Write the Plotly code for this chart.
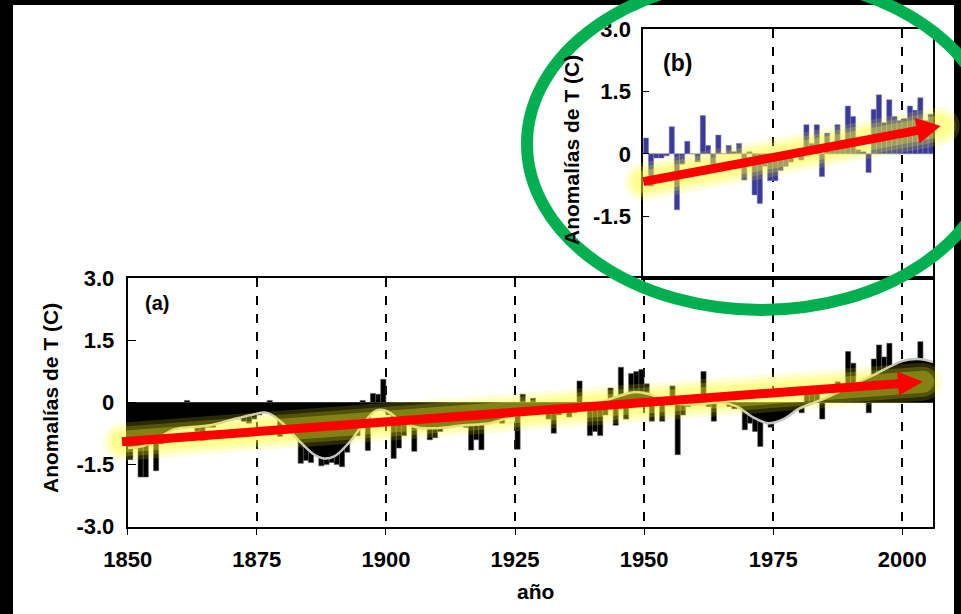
import math
import plotly.graph_objects as go

# ---------------- data ----------------
years_a = list(range(1850, 2006))
anom_a = [
    -1.38, -1.10, -1.80, -1.80, -1.00, -1.65, -1.00, -0.60, -0.40, -0.50,   # 1850s
    -0.30, 0.05, -0.60, -0.70, -0.92, -0.60, -0.60, -0.50, -0.40, -0.20,    # 1860s
    -0.20, -0.40, -0.45, -0.50, -0.40, -0.30, 0.00, 0.05, -0.30, -0.82,     # 1870s
    -0.50, -0.60, -0.50, -1.47, -1.40, -1.45, -1.20, -1.53, -1.50, -1.45,   # 1880s
    -1.50, -1.55, -1.20, -0.40, -0.80, 0.05, -1.16, 0.22, 0.20, 0.56,       # 1890s
    -0.30, -1.35, -1.10, -0.80, -0.25, -1.18, -0.30, -0.50, -0.90, -0.85,   # 1900s
    -0.70, -0.50, -0.60, -0.30, -0.40, -0.60, -1.15, -0.90, -1.14, -0.20,   # 1910s
    -0.10, -0.40, -0.50, -0.25, -0.30, -1.13, 0.20, 0.00, 0.10, 0.00,       # 1920s
    -0.10, -0.40, -0.74, -0.30, -0.20, -0.35, -0.25, 0.52, -0.10, -0.80,    # 1930s
    -0.70, -0.80, -0.30, 0.35, -0.55, 0.85, -0.40, 0.70, 0.75, 0.80,        # 1940s
    0.45, -0.45, 0.00, -0.45, 0.10, 0.40, -1.26, -0.30, -0.10, 0.00,        # 1950s
    0.00, 0.75, -0.10, -0.45, 0.05, 0.00, -0.10, -0.15, 0.00, -0.66,        # 1960s
    -0.50, -0.70, -1.06, -0.30, -0.60, -0.40, -0.30, -0.10, 0.00, -0.10,    # 1970s
    -0.25, 0.30, 0.40, 0.35, -0.40, 0.00, 0.10, 0.50, 0.10, 1.23,           # 1980s
    0.95, 0.00, 0.40, -0.25, 1.05, 1.39, 1.10, 1.43, 0.80, 0.90,            # 1990s
    1.00, 1.00, 1.00, 1.47, 1.00, 0.70,                                     # 2000s
]
smooth_years = [1850, 1853, 1856, 1859, 1862, 1866, 1870, 1874, 1877, 1880,
                1883, 1886, 1888, 1890, 1893, 1896, 1898, 1900, 1903, 1906,
                1910, 1915, 1920, 1925, 1930, 1935, 1940, 1945, 1948, 1951,
                1955, 1960, 1965, 1968, 1971, 1974, 1977, 1980, 1985, 1990,
                1995, 2000, 2003, 2006]
smooth_a = [-1.10, -1.05, -0.85, -0.65, -0.60, -0.55, -0.42, -0.30, -0.25, -0.50,
            -0.90, -1.25, -1.35, -1.30, -0.95, -0.45, -0.20, -0.20, -0.45, -0.60,
            -0.62, -0.55, -0.50, -0.32, -0.20, -0.15, -0.05, 0.15, 0.25, 0.20,
            0.00, -0.05, 0.00, -0.10, -0.35, -0.50, -0.40, -0.15, 0.10, 0.40,
            0.70, 1.00, 1.05, 0.98]

years_b = list(range(1950, 2006))
anom_b = [
    0.38, -0.78, -0.10, -0.10, -0.05, 0.65, -1.35, -0.25, 0.30, 0.00,      # 1950s
    -0.20, 0.92, 0.20, -0.25, 0.45, 0.00, 0.20, 0.05, 0.25, -0.63,         # 1960s
    0.05, -0.99, -1.20, -0.30, -0.65, -0.65, -0.40, -0.30, -0.20, 0.00,    # 1970s
    -0.15, 0.70, 0.25, 0.70, -0.55, 0.50, 0.10, 0.70, 0.15, 1.15,          # 1980s
    0.90, 0.10, 0.05, -0.45, 1.07, 1.42, 0.75, 1.30, 0.90, 0.80,           # 1990s
    0.85, 1.15, 1.05, 1.35, 0.80, 0.95,                                    # 2000s
]

x_ticks_a = [1850, 1875, 1900, 1925, 1950, 1975, 2000]
x_ticks_b = [1950, 1975, 2000]
y_ticks_a = [-3, -1.5, 0, 1.5, 3]
y_text_a = ["-3.0", "-1.5", "0", "1.5", "3.0"]
y_ticks_b = [-1.5, 0, 1.5, 3]
y_text_b = ["-1.5", "0", "1.5", "3.0"]

# ---------------- figure ----------------
W, H = 961, 614
FONT = "Liberation Sans, Arial, sans-serif"


def P(x, y):
    return x / W, 1 - y / H


fig = go.Figure()

fig.add_trace(go.Scatter(x=smooth_years, y=smooth_a, mode="lines", fill="tozeroy",
                         fillcolor="black", line=dict(width=0, shape="spline"),
                         xaxis="x", yaxis="y", hoverinfo="skip"))
fig.add_trace(go.Bar(x=years_a, y=anom_a, width=1, offset=0,
                     marker=dict(color="black", line=dict(width=0.6, color="#555555")),
                     xaxis="x", yaxis="y"))
fig.add_trace(go.Scatter(x=smooth_years, y=smooth_a, mode="lines",
                         line=dict(color="#C4C4C4", width=2.5, shape="spline"),
                         xaxis="x", yaxis="y"))
fig.add_trace(go.Bar(x=years_b, y=anom_b, width=1, offset=0,
                     marker=dict(color="#3A3A9E", line=dict(width=0.6, color="#8080A0")),
                     xaxis="x2", yaxis="y2"))

ax_common = dict(showline=True, linecolor="black", linewidth=2, mirror=True,
                 zeroline=False, tickcolor="black", automargin=False,
                 tickfont=dict(family=FONT, size=22, color="black", weight="bold"))

fig.update_layout(
    width=W, height=H, autosize=False, margin=dict(l=0, r=0, t=0, b=0, pad=0, autoexpand=False),
    paper_bgcolor="white", plot_bgcolor="rgba(0,0,0,0)",
    showlegend=False, barmode="overlay",
    xaxis=dict(domain=[127.7 / W, 933.3 / W], range=[1850, 2006], anchor="y",
               tickvals=x_ticks_a, ticks="outside", ticklen=6,
               showgrid=True, gridcolor="black", griddash="dash", gridwidth=1.5,
               ticklabelstandoff=6, **ax_common),
    yaxis=dict(domain=[1 - 526.7 / H, 1 - 278.3 / H], range=[-3, 3], anchor="x",
               tickvals=y_ticks_a, ticktext=y_text_a, ticks="inside", ticklen=8,
               showgrid=False, ticklabelstandoff=7, **ax_common),
    xaxis2=dict(domain=[643.3 / W, 933.3 / W], range=[1950, 2006], anchor="y2",
                tickvals=x_ticks_b, ticks="", showticklabels=False,
                showgrid=True, gridcolor="black", griddash="dash", gridwidth=1.5,
                **ax_common),
    yaxis2=dict(domain=[1 - 278.3 / H, 1 - 29.3 / H], range=[-3, 3], anchor="x2",
                tickvals=y_ticks_b, ticktext=y_text_b, ticks="inside", ticklen=6,
                showgrid=False, ticklabelstandoff=6, **ax_common),
)

# ---------------- text ----------------
def txt(x, y, s, size, angle=0):
    px, py = P(x, y)
    fig.add_annotation(x=px, y=py, xref="paper", yref="paper", text=s, showarrow=False,
                       textangle=angle, xanchor="center", yanchor="middle",
                       font=dict(family=FONT, size=size, color="black", weight="bold"))


txt(50, 398, "Anomalías de T (C)", 21, -90)
txt(571, 150, "Anomalías de T (C)", 21, -90)
txt(535, 591, "año", 21)
txt(157, 303, "(a)", 20)
txt(677, 63, "(b)", 23)

# ---------------- decorations (pixel-space) ----------------
shapes = []
# black frame
for (x0, y0, x1, y1) in [(0, 0, 13, 614), (0, 0, 961, 5), (954, 0, 961, 614)]:
    a, b = P(x0, y0)
    c, d = P(x1, y1)
    shapes.append(dict(type="rect", xref="paper", yref="paper", x0=a, y0=b, x1=c, y1=d,
                       fillcolor="black", line=dict(width=0), layer="above"))


def capsule(x0, y0, x1, y1, r, n=18):
    th = math.atan2(y1 - y0, x1 - x0)
    pts = []
    for i in range(n + 1):
        t = th - math.pi / 2 + math.pi * i / n
        pts.append((x1 + r * math.cos(t), y1 + r * math.sin(t)))
    for i in range(n + 1):
        t = th + math.pi / 2 + math.pi * i / n
        pts.append((x0 + r * math.cos(t), y0 + r * math.sin(t)))
    return "M " + " L ".join("%.5f,%.5f" % P(px, py) for px, py in pts) + " Z"


def arrow(x0, y0, x1, y1, head_len, head_half, width):
    L = math.hypot(x1 - x0, y1 - y0)
    ux, uy = (x1 - x0) / L, (y1 - y0) / L
    nx, ny = -uy, ux
    bx, by = x1 - ux * head_len, y1 - uy * head_len
    out = []
    # glow
    for r, alpha in [(19, 0.16), (15, 0.2), (11, 0.28)]:
        out.append(dict(type="path", xref="paper", yref="paper", path=capsule(x0, y0, x1, y1, r),
                        fillcolor="rgba(255,255,40,%.2f)" % alpha, line=dict(width=0), layer="above"))
    a, b = P(x0, y0)
    c, d = P(bx + ux * 2, by + uy * 2)
    out.append(dict(type="line", xref="paper", yref="paper", x0=a, y0=b, x1=c, y1=d,
                    line=dict(color="#FF0000", width=width), layer="above"))
    tri = [(x1, y1), (bx + nx * head_half, by + ny * head_half), (bx - nx * head_half, by - ny * head_half)]
    out.append(dict(type="path", xref="paper", yref="paper",
                    path="M " + " L ".join("%.5f,%.5f" % P(px, py) for px, py in tri) + " Z",
                    fillcolor="#FF0000", line=dict(width=0), layer="above"))
    return out


shapes += arrow(122, 441.7, 923, 381.7, 25, 12, 9)
shapes += arrow(643.3, 181.7, 940.7, 126, 24, 13, 9)

# green ellipse
cx, cy, ea, eb = 761, 144, 234, 166
a, b = P(cx - ea, cy - eb)
c, d = P(cx + ea, cy + eb)
shapes.append(dict(type="circle", xref="paper", yref="paper", x0=a, y0=b, x1=c, y1=d,
                   line=dict(color="#00B050", width=12), layer="above"))

fig.update_layout(shapes=shapes)

fig.write_html("out.html",
               config={"displayModeBar": False},
               post_script="document.body.style.margin='0px';"
                           "document.body.style.overflow='hidden';")
